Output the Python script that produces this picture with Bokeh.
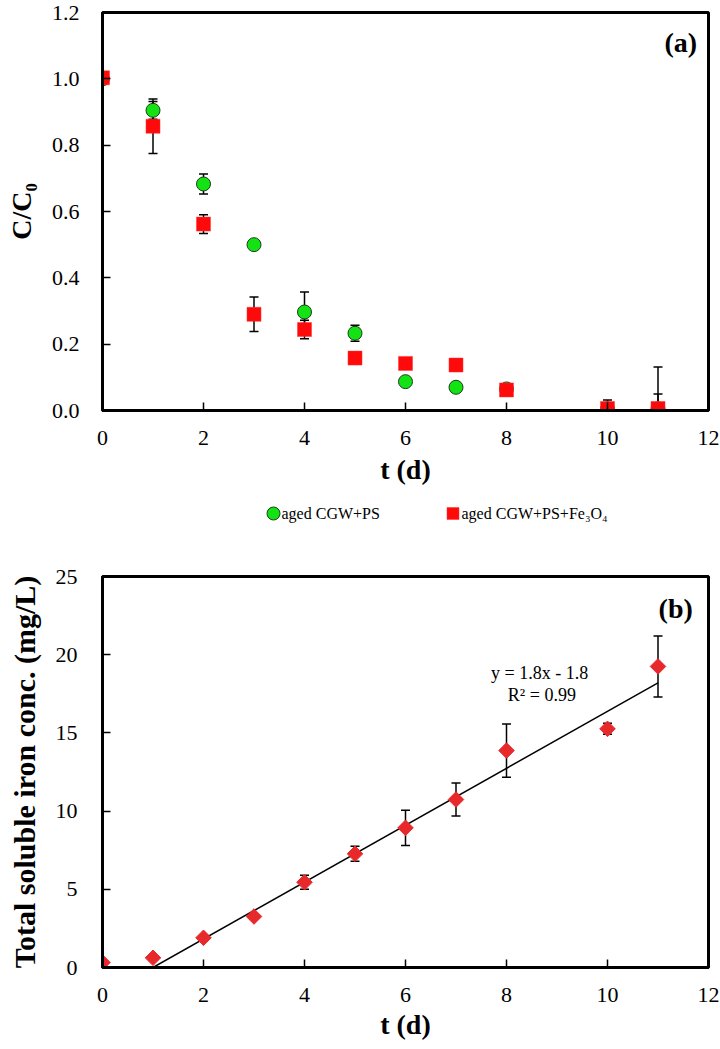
import numpy as np
from bokeh.plotting import figure
from bokeh.models import (ColumnDataSource, Whisker, TeeHead, FixedTicker,
                          NumeralTickFormatter, Label, Range1d)
from bokeh.core.properties import value
from bokeh.layouts import column
from bokeh.embed import file_html
from bokeh.resources import INLINE

# ---------------- data (a) ----------------
t_a = [0, 1, 2, 3, 4, 5, 6, 7, 8, 10, 11]
ps_c = [1.0, 0.905, 0.683, 0.50, 0.297, 0.233, 0.087, 0.070, 0.065, 0.005, 0.005]
ps_err = [0.0, 0.027, 0.030, 0.0, 0.060, 0.024, 0.0, 0.0, 0.016, 0.0, 0.045]
fe_c = [1.003, 0.857, 0.562, 0.290, 0.244, 0.158, 0.142, 0.137, 0.062, 0.006, 0.006]
fe_err = [0.0, 0.082, 0.028, 0.052, 0.028, 0.0, 0.0, 0.0, 0.0, 0.026, 0.125]
x_ticks = [0, 2, 4, 6, 8, 10, 12]
y_ticks_a = [0.0, 0.2, 0.4, 0.6, 0.8, 1.0, 1.2]
series_a = ["aged CGW+PS", "aged CGW+PS+Fe\u2083O\u2084"]

# ---------------- data (b) ----------------
t_b = [0, 1, 2, 3, 4, 5, 6, 7, 8, 10, 11]
iron = [0.32, 0.62, 1.9, 3.26, 5.45, 7.27, 8.93, 10.74, 13.87, 15.26, 19.25]
iron_err = [0.0, 0.15, 0.0, 0.0, 0.45, 0.48, 1.13, 1.05, 1.70, 0.35, 1.95]
fit_x = [1.0, 11.0]
fit_y = [0.0, 18.2]
y_ticks_b = [0, 5, 10, 15, 20, 25]
fit_text = ["y = 1.8x  - 1.8", "R\u00b2 = 0.99"]

FONT = "Liberation Serif"
GREEN = "#13e313"
RED = "#ff0a0a"


def style(p, xl, yl, x_std, x_ax_std, y_std, y_ax_std, ylab_size="28px"):
    p.xgrid.visible = False
    p.ygrid.visible = False
    p.outline_line_color = "black"
    p.outline_line_width = 3
    for ax in (p.xaxis[0], p.yaxis[0]):
        ax.axis_line_width = 3
        ax.axis_line_color = "black"
        ax.major_tick_in = 8
        ax.major_tick_out = 0
        ax.major_tick_line_width = 1.5
        ax.minor_tick_line_color = None
        ax.major_label_text_font = FONT
        ax.major_label_text_font_size = "22px"
        ax.major_label_text_color = "black"
        ax.axis_label_text_font = FONT
        ax.axis_label_text_font_size = "28px"
        ax.axis_label_text_font_style = "bold"
        ax.axis_label_text_color = "black"
    p.yaxis[0].axis_label_text_font_size = ylab_size
    p.xaxis[0].axis_label = xl
    p.yaxis[0].axis_label = yl
    p.xaxis[0].ticker = FixedTicker(ticks=x_ticks)
    p.xaxis[0].major_label_standoff = x_std
    p.xaxis[0].axis_label_standoff = x_ax_std
    p.yaxis[0].major_label_standoff = y_std
    p.yaxis[0].axis_label_standoff = y_ax_std


def whisker(p, x, c, e):
    src = ColumnDataSource(dict(x=x, upper=[a + b for a, b in zip(c, e)],
                                lower=[a - b for a, b in zip(c, e)]))
    w = Whisker(source=src, base="x", upper="upper", lower="lower",
                line_color="black", line_width=1.5,
                upper_head=TeeHead(size=9, line_width=1.5, line_color="black"),
                lower_head=TeeHead(size=9, line_width=1.5, line_color="black"))
    p.add_layout(w)


# ---------------- figure (a) ----------------
p1 = figure(width=720, height=490, x_range=Range1d(0, 12), y_range=Range1d(0, 1.2),
            output_backend="svg", toolbar_location=None,
            min_border_left=98, min_border_right=12, min_border_top=12,
            min_border_bottom=80)
style(p1, "t (d)", "C/C\u2080", 20, 6, 23, 12)
p1.yaxis[0].ticker = FixedTicker(ticks=y_ticks_a)
p1.yaxis[0].formatter = NumeralTickFormatter(format="0.0")

whisker(p1, t_a, ps_c, ps_err)
whisker(p1, t_a, fe_c, fe_err)
p1.scatter(t_a, ps_c, marker="circle", size=14, fill_color=GREEN,
           line_color="#1c3d1c", line_width=1)
p1.scatter(t_a, fe_c, marker="square", size=14, fill_color=RED,
           line_color="#ff3030", line_width=0.5)

p1.add_layout(Label(x=11.45, y=1.11, text="(a)", text_font=FONT,
                    text_font_size="28px", text_font_style="bold",
                    text_color="black",
                    text_align="center", text_baseline="middle"))

# ---------------- legend strip (its frame is aligned with the plots' frames) -----
pl = figure(width=720, height=50, x_range=Range1d(102, 708), y_range=Range1d(0, 50),
            output_backend="svg", toolbar_location=None,
            x_axis_type=None, y_axis_type=None, min_border=0)
pl.outline_line_color = None
pl.xgrid.visible = False
pl.ygrid.visible = False
leg_src = ColumnDataSource(dict(tx=[281, 461], y=[27, 27], label=series_a))
pl.scatter(x=[273], y=[27], marker="circle", size=13, fill_color=GREEN,
           line_color="#1c3d1c", line_width=1)
pl.scatter(x=[452.5], y=[27], marker="square", size=12, fill_color=RED,
           line_color="#ff3030", line_width=0.5)
pl.text(x="tx", y="y", text="label", source=leg_src,
        text_font=value(FONT), text_font_size="16px", text_color="black",
        text_align="left", text_baseline="middle")

# ---------------- figure (b) ----------------
p2 = figure(width=720, height=509, x_range=Range1d(0, 12), y_range=Range1d(0, 25),
            output_backend="svg", toolbar_location=None,
            min_border_left=102, min_border_right=12, min_border_top=36,
            min_border_bottom=82)
style(p2, "t (d)", "Total soluble iron conc. (mg/L)", 20, 4, 25, 12, "30px")
p2.yaxis[0].ticker = FixedTicker(ticks=y_ticks_b)
p2.yaxis[0].formatter = NumeralTickFormatter(format="0")

whisker(p2, t_b, iron, iron_err)
p2.line(fit_x, fit_y, line_color="black", line_width=1.5)
p2.scatter(t_b, iron, marker="square", angle=np.pi / 4, size=11,
           fill_color="#e8292c", line_color="#e8292c", line_width=1)

p2.add_layout(Label(x=11.35, y=22.95, text="(b)", text_font=FONT,
                    text_font_size="28px", text_font_style="bold",
                    text_color="black",
                    text_align="center", text_baseline="middle"))
p2.add_layout(Label(x=8.7, y=18.8, text=fit_text[0], text_font=FONT,
                    text_font_size="18px", text_align="center",
                    text_color="black", text_baseline="middle"))
p2.add_layout(Label(x=8.7, y=17.4, text=fit_text[1], text_font=FONT,
                    text_font_size="18px", text_align="center",
                    text_color="black", text_baseline="middle"))

layout = column(p1, pl, p2)
open("out.html", "w").write(file_html(layout, INLINE))
